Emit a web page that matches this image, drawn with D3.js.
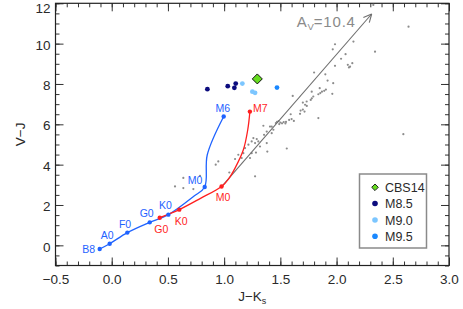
<!DOCTYPE html>
<html><head><meta charset="utf-8">
<script src="https://cdn.jsdelivr.net/npm/d3@7"></script>
<style>
body{margin:0;background:#fff;}
svg{display:block;font-family:"Liberation Sans",Arial,sans-serif;}
</style></head>
<body><svg id="c" width="463" height="309"></svg>
<script>
// ---------- data ----------
const xTicks = [-0.5, 0.0, 0.5, 1.0, 1.5, 2.0, 2.5, 3.0];
const yTicks = [0, 2, 4, 6, 8, 10, 12];

// dwarf (blue) sequence
const dwarfLineX = [-0.107, -0.018, 0.139, 0.338, 0.504, 0.73, 0.827, 0.85, 0.996];
const dwarfLineY = [-0.18, 0.08, 0.63, 1.14, 1.52, 2.43, 2.89, 4.49, 6.39];
const dwarfLabels = ["B8", "A0", "F0", "G0", "K0", "M0", "M6"];
const dwarfLabX = [-0.107, -0.018, 0.139, 0.338, 0.504, 0.827, 0.996];
const dwarfLabY = [-0.18, 0.08, 0.63, 1.14, 1.52, 2.89, 6.39];

// giant (red) sequence
const giantLineX = [0.427, 0.601, 0.79, 0.977, 1.04, 1.097, 1.171, 1.21, 1.229];
const giantLineY = [1.37, 1.77, 2.33, 2.92, 3.30, 3.83, 4.74, 5.73, 6.63];
const giantLabels = ["G0", "K0", "M0", "M7"];
const giantLabX = [0.427, 0.601, 0.977, 1.229];
const giantLabY = [1.37, 1.77, 2.92, 6.63];

// reddening vector
const avStart = [0.98, 2.92];
const avEnd = [2.312, 11.47];
const avLabel = "10.4";

// field objects (gray)
const fieldX = [2.327,2.640,2.342,1.986,1.966,2.150,2.080,2.040,1.986,2.100,2.120,2.140,2.110,1.800,1.900,1.920,1.970,1.850,1.870,1.855,1.890,1.905,1.962,1.779,1.838,1.793,1.770,1.780,1.734,1.700,1.720,1.735,1.610,1.680,1.700,1.715,1.675,1.838,1.592,1.578,1.600,1.620,1.550,1.545,1.470,1.485,1.500,1.515,1.530,1.490,1.460,1.423,1.349,1.408,1.379,1.355,1.423,1.438,1.319,1.379,1.245,1.260,1.290,1.304,1.275,1.186,1.216,1.171,1.156,1.245,1.283,1.230,1.126,1.097,1.046,0.948,0.925,1.384,1.557,1.275,0.785,0.637,0.563,0.637,0.726,2.594];
const fieldY = [11.92,10.84,9.60,9.97,9.72,10.10,9.48,9.25,8.90,8.95,8.86,9.03,8.82,8.57,8.48,8.17,8.04,7.79,7.62,7.55,7.66,7.72,7.51,7.62,7.49,7.38,7.21,7.29,7.13,7.08,6.97,6.91,7.41,6.68,6.73,6.63,6.52,6.31,6.50,6.22,6.26,6.17,6.12,6.04,6.12,6.16,6.09,6.05,6.11,6.01,6.06,5.89,5.93,5.89,5.64,5.48,5.56,5.73,4.90,5.07,5.15,5.32,5.27,5.15,5.07,4.82,4.99,4.57,4.33,4.57,4.60,4.33,4.49,4.28,3.61,4.16,4.00,4.65,4.80,3.42,3.45,3.34,2.92,2.84,2.79,5.51];

// late-M objects
const m85X = [0.851, 1.032, 1.091, 1.103];
const m85Y = [7.74, 7.89, 7.81, 8.02];
const m90X = [1.162, 1.251, 1.275];
const m90Y = [8.02, 7.62, 7.56];
const m95X = [1.47];
const m95Y = [7.82];
const cbsX = [1.295];
const cbsY = [8.25];

const legendNames = ["CBS14", "M8.5", "M9.0", "M9.5"];

// ---------- layout ----------
const svg = d3.select("#c");
const L = 55.5, R = 449, T = 3.3, B = 265.5;
const x = d3.scaleLinear().domain([-0.5, 3.0]).range([L, R]);
const y = d3.scaleLinear().domain([-1, 12]).range([B, T]);

const C = {
  blue: "#1f63ff", red: "#ff1f1f", gray: "#8c8c8c", arrow: "#6e6e6e",
  m85: "#0c0c7e", m90: "#7cc6ff", m95: "#1a88ff", cbs: "#66dd1f", text: "#2a2a2a"
};

// ---------- axes ----------
const fmtX = d3.format(".1f");
function styleAxis(g){ g.select(".domain").remove(); g.selectAll("line").attr("stroke","#333").attr("stroke-width",1);
  g.selectAll("text").attr("fill",C.text).style("font-size","13.5px").style("font-family","'Liberation Sans',Arial,sans-serif"); }

const xMinor = d3.range(-0.5, 3.0001, 0.1);
const yMinor = d3.range(-1, 12.0001, 0.5);

svg.append("g").attr("transform",`translate(0,${B})`)
  .call(d3.axisBottom(x).tickValues(xTicks).tickFormat(fmtX).tickSize(-8).tickPadding(9)).call(styleAxis);
svg.append("g").attr("transform",`translate(0,${B})`)
  .call(d3.axisBottom(x).tickValues(xMinor).tickFormat("").tickSize(-4)).call(styleAxis);
svg.append("g").attr("transform",`translate(0,${T})`)
  .call(d3.axisTop(x).tickValues(xTicks).tickFormat("").tickSize(-8)).call(styleAxis);
svg.append("g").attr("transform",`translate(0,${T})`)
  .call(d3.axisTop(x).tickValues(xMinor).tickFormat("").tickSize(-4)).call(styleAxis);

const yAx = svg.append("g").attr("transform",`translate(${L},0)`)
  .call(d3.axisLeft(y).tickValues(yTicks).tickFormat(d3.format("d")).tickSize(-8).tickPadding(5)).call(styleAxis);
// keep the topmost label inside the picture
yAx.selectAll("text").attr("dy", d => d === 12 ? "0.67em" : "0.42em");
svg.append("g").attr("transform",`translate(${L},0)`)
  .call(d3.axisLeft(y).tickValues(yMinor).tickFormat("").tickSize(-4)).call(styleAxis);
svg.append("g").attr("transform",`translate(${R},0)`)
  .call(d3.axisRight(y).tickValues(yTicks).tickFormat("").tickSize(-8)).call(styleAxis);
svg.append("g").attr("transform",`translate(${R},0)`)
  .call(d3.axisRight(y).tickValues(yMinor).tickFormat("").tickSize(-4)).call(styleAxis);

svg.append("rect").attr("x",L).attr("y",T).attr("width",R-L).attr("height",B-T)
  .attr("fill","none").attr("stroke","#222").attr("stroke-width",1.2);

// axis titles
const xt = svg.append("text").attr("x",(L+R)/2).attr("y",301).attr("text-anchor","middle")
  .attr("fill",C.text).style("font-size","13.5px");
xt.append("tspan").text("J\u2212K");
xt.append("tspan").text("s").attr("dy",3).style("font-size","9px");
svg.append("text").attr("transform",`translate(25,${(T+B)/2}) rotate(-90)`).attr("text-anchor","middle")
  .attr("fill",C.text).style("font-size","13.5px").text("V\u2212J");

// ---------- field points ----------
svg.append("g").selectAll("circle").data(d3.range(fieldX.length)).join("circle")
  .attr("cx",i=>x(fieldX[i])).attr("cy",i=>y(fieldY[i])).attr("r",1.1).attr("fill",C.gray);

// ---------- reddening arrow ----------
const ax0 = x(avStart[0]), ay0 = y(avStart[1]), ax1 = x(avEnd[0]), ay1 = y(avEnd[1]);
svg.append("line").attr("x1",ax0).attr("y1",ay0).attr("x2",ax1).attr("y2",ay1)
  .attr("stroke",C.arrow).attr("stroke-width",1.1);
const ang = Math.atan2(ay1-ay0, ax1-ax0), hl = 9;
[ -0.45, 0.45 ].forEach(da=>{
  svg.append("line").attr("x1",ax1).attr("y1",ay1)
    .attr("x2",ax1 - hl*Math.cos(ang+da)).attr("y2",ay1 - hl*Math.sin(ang+da))
    .attr("stroke",C.arrow).attr("stroke-width",1.1);
});
const at = svg.append("text").attr("x",ax1-75).attr("y",ay1+13.5).attr("fill","#8a8a8a")
  .style("font-size","15px").style("letter-spacing","0.8px");
at.append("tspan").text("A");
at.append("tspan").text("V").attr("dy",3).style("font-size","9.5px").style("letter-spacing","0px");
at.append("tspan").text("=" + avLabel).attr("dy",-3);

// ---------- tracks ----------
const line = d3.line().x(d=>x(d[0])).y(d=>y(d[1])).curve(d3.curveCatmullRom.alpha(0.5));
svg.append("path").attr("d",line(dwarfLineX.map((v,i)=>[v,dwarfLineY[i]])))
  .attr("fill","none").attr("stroke",C.blue).attr("stroke-width",1.3);
svg.append("path").attr("d",line(giantLineX.map((v,i)=>[v,giantLineY[i]])))
  .attr("fill","none").attr("stroke",C.red).attr("stroke-width",1.3);

svg.append("g").selectAll("circle").data(giantLabels).join("circle")
  .attr("cx",(d,i)=>x(giantLabX[i])).attr("cy",(d,i)=>y(giantLabY[i])).attr("r",2.2).attr("fill",C.red);
svg.append("g").selectAll("circle").data(dwarfLabels).join("circle")
  .attr("cx",(d,i)=>x(dwarfLabX[i])).attr("cy",(d,i)=>y(dwarfLabY[i])).attr("r",2.2).attr("fill",C.blue);

// label offsets (px)
const dOff = [[-11,0],[-2.4,-8.7],[-2.3,-8.7],[-3,-9],[-3,-9],[-9.7,-6.6],[-1,-8.4]];
const gOff = [[1.6,11.3],[2,11.3],[1.4,11],[10.3,-3]];
svg.append("g").selectAll("text").data(dwarfLabels).join("text")
  .attr("x",(d,i)=>x(dwarfLabX[i])+dOff[i][0]).attr("y",(d,i)=>y(dwarfLabY[i])+dOff[i][1])
  .attr("dy","0.36em").attr("text-anchor","middle").attr("fill",C.blue).style("font-size","10.5px").text(d=>d);
svg.append("g").selectAll("text").data(giantLabels).join("text")
  .attr("x",(d,i)=>x(giantLabX[i])+gOff[i][0]).attr("y",(d,i)=>y(giantLabY[i])+gOff[i][1])
  .attr("dy","0.36em").attr("text-anchor","middle").attr("fill",C.red).style("font-size","10.5px").text(d=>d);

// ---------- late-M objects ----------
function dots(xs, ys, col){
  svg.append("g").selectAll("circle").data(xs).join("circle")
    .attr("cx",d=>x(d)).attr("cy",(d,i)=>y(ys[i])).attr("r",2.4).attr("fill",col);
}
dots(m85X, m85Y, C.m85);
dots(m90X, m90Y, C.m90);
dots(m95X, m95Y, C.m95);
const diamond = (cx, cy, r) => `M${cx},${cy-r}L${cx+r},${cy}L${cx},${cy+r}L${cx-r},${cy}Z`;
svg.append("g").selectAll("path").data(cbsX).join("path")
  .attr("d",(d,i)=>diamond(x(d), y(cbsY[i]), 5)).attr("fill",C.cbs).attr("stroke","#111").attr("stroke-width",1);

// ---------- legend ----------
const lg = svg.append("g");
lg.append("rect").attr("x",359.5).attr("y",174).attr("width",67).attr("height",74)
  .attr("fill","#fff").attr("stroke","#8a8a8a").attr("stroke-width",1.5);
const rowY = [187.3, 203.5, 220, 236.3];
const legCols = [C.cbs, C.m85, C.m90, C.m95];
legendNames.forEach((n,i)=>{
  if(i===0){
    lg.append("path").attr("d",diamond(375, rowY[i], 3.3)).attr("fill",C.cbs).attr("stroke","#111").attr("stroke-width",0.9);
  } else {
    lg.append("circle").attr("cx",375).attr("cy",rowY[i]).attr("r",2.8).attr("fill",legCols[i]);
  }
  lg.append("text").attr("x",385).attr("y",rowY[i]).attr("dy","0.36em").attr("fill",C.text)
    .style("font-size","12.5px").text(n);
});
</script></body></html>
